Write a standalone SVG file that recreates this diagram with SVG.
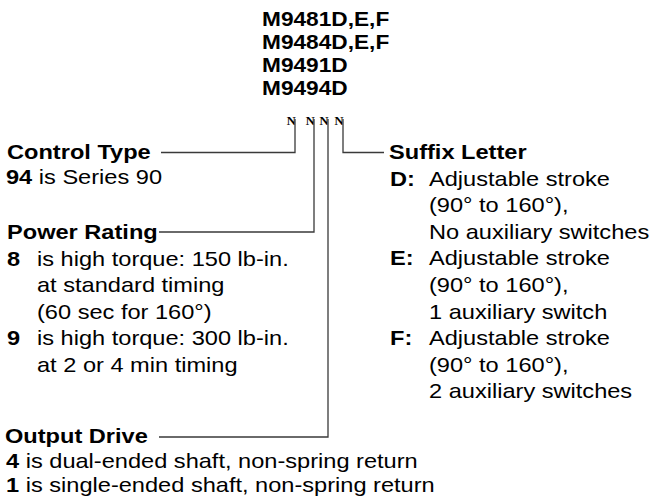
<svg xmlns="http://www.w3.org/2000/svg" width="655" height="504" viewBox="0 0 655 504">
<style>
text{font-family:"Liberation Sans",Arial,sans-serif;font-size:20px;fill:#000}
.t{font-size:21px;font-weight:bold}
.b{font-weight:bold}
.n{font-family:"Liberation Serif","Times New Roman",serif;font-size:12.5px;font-weight:bold}
.ln{fill:none;stroke:#3a3a3a;stroke-width:1.3}
</style>
<rect width="655" height="504" fill="#fff"/>
<g id="title">
<text class="t" transform="translate(262,25.5) scale(1.08,1)">M9481D,E,F</text>
<text class="t" transform="translate(262,48.5) scale(1.08,1)">M9484D,E,F</text>
<text class="t" transform="translate(262,71.5) scale(1.08,1)">M9491D</text>
<text class="t" transform="translate(262,94.5) scale(1.08,1)">M9494D</text>
<text class="n" x="286.8" y="125">N</text>
<text class="n" x="305.8" y="125">N</text>
<text class="n" x="319.6" y="125">N</text>
<text class="n" x="334.6" y="125">N</text>
</g>
<g id="connectors">
<path class="ln" d="M295,119V152.5H161"/>
<path class="ln" d="M314,119V232H159"/>
<path class="ln" d="M328,119V437H159"/>
<path class="ln" d="M343,119V152.5H384"/>
</g>
<g id="control-type">
<text class="b" transform="translate(7,159) scale(1.18,1)">Control Type</text>
<text transform="translate(6,184) scale(1.18,1)"><tspan class="b">94</tspan> is Series 90</text>
</g>
<g id="power-rating">
<text class="b" transform="translate(7,239) scale(1.18,1)">Power Rating</text>
<text class="b" transform="translate(7,265.6) scale(1.18,1)">8</text>
<text transform="translate(37,265.6) scale(1.18,1)">is high torque: 150 lb-in.</text>
<text transform="translate(37,292.2) scale(1.18,1)">at standard timing</text>
<text transform="translate(37,318.8) scale(1.18,1)">(60 sec for 160°)</text>
<text class="b" transform="translate(7,345.4) scale(1.18,1)">9</text>
<text transform="translate(37,345.4) scale(1.18,1)">is high torque: 300 lb-in.</text>
<text transform="translate(37,372) scale(1.18,1)">at 2 or 4 min timing</text>
</g>
<g id="output-drive">
<text class="b" transform="translate(5,443) scale(1.18,1)">Output Drive</text>
<text transform="translate(6,467.5) scale(1.18,1)"><tspan class="b">4</tspan> is dual-ended shaft, non-spring return</text>
<text transform="translate(6,492) scale(1.18,1)"><tspan class="b">1</tspan> is single-ended shaft, non-spring return</text>
</g>
<g id="suffix-letter">
<text class="b" transform="translate(389,159) scale(1.18,1)">Suffix Letter</text>
<text class="b" transform="translate(390,185.6) scale(1.18,1)">D:</text>
<text transform="translate(429,185.6) scale(1.18,1)">Adjustable stroke</text>
<text transform="translate(429,212.2) scale(1.18,1)">(90° to 160°),</text>
<text transform="translate(429,238.8) scale(1.18,1)">No auxiliary switches</text>
<text class="b" transform="translate(390,265.4) scale(1.18,1)">E:</text>
<text transform="translate(429,265.4) scale(1.18,1)">Adjustable stroke</text>
<text transform="translate(429,292) scale(1.18,1)">(90° to 160°),</text>
<text transform="translate(429,318.6) scale(1.18,1)">1 auxiliary switch</text>
<text class="b" transform="translate(390,345.2) scale(1.18,1)">F:</text>
<text transform="translate(429,345.2) scale(1.18,1)">Adjustable stroke</text>
<text transform="translate(429,371.8) scale(1.18,1)">(90° to 160°),</text>
<text transform="translate(429,398.4) scale(1.18,1)">2 auxiliary switches</text>
</g>
</svg>
